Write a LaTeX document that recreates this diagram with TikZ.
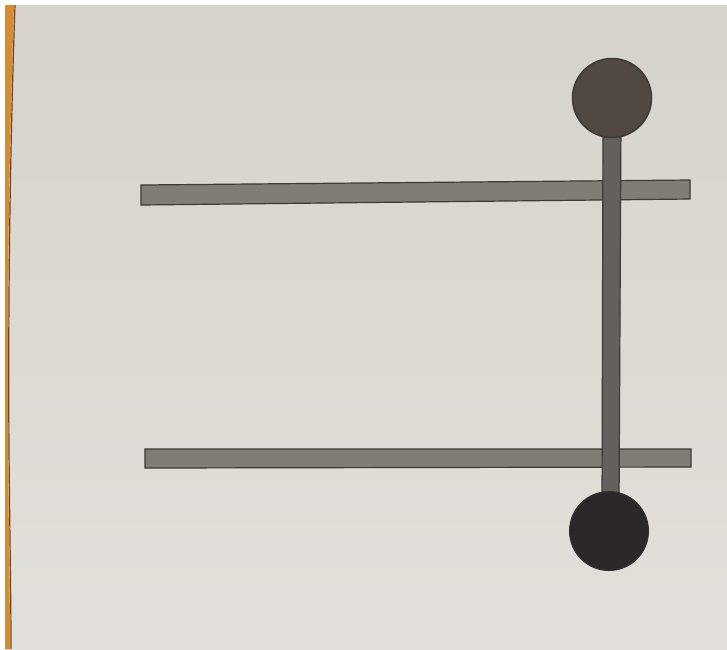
\documentclass[tikz,border=0pt]{standalone}
\usetikzlibrary{calc}
\definecolor{paper}{RGB}{214,211,204}
\definecolor{paperlight}{RGB}{226,224,218}
\definecolor{orangeedge}{RGB}{214,140,50}
\definecolor{edgeline}{RGB}{110,70,35}
\definecolor{barfill}{RGB}{128,124,118}
\definecolor{barline}{RGB}{60,57,54}
\definecolor{topball}{RGB}{82,72,66}
\definecolor{botball}{RGB}{42,40,40}
\definecolor{rodfill}{RGB}{100,96,92}
\tikzset{
  barstyle/.style={fill=barfill, draw=barline, line width=1.2pt},
  rodstyle/.style={fill=rodfill, draw=barline, line width=1.2pt},
}
\begin{document}
\begin{tikzpicture}[x=1pt,y=-1pt]
\useasboundingbox (0,0) rectangle (727,649);
\fill[white] (0,0) rectangle (727,649);
% paper
\shade[top color=paper, bottom color=paperlight] (5,5) rectangle (727,649);
% orange edge
\fill[orangeedge] (5,5) -- (14,5) .. controls (9,150) and (7,300) .. (8,450) .. controls (9,550) and (10,600) .. (10,649) -- (5,649) -- cycle;
\draw[edgeline, line width=1.2pt] (15,5) .. controls (10,150) and (8,300) .. (9,450) .. controls (10,550) and (11,600) .. (11,649);
% bars
\path[barstyle] (141,185) -- (690,180) -- (690,199) -- (141,205) -- cycle;
\path[barstyle] (145,449) -- (691,449) -- (691,467) -- (145,468) -- cycle;
% rod
\path[rodstyle] (603,120) -- (621,120) -- (619,510) -- (602,510) -- cycle;
\coordinate (rodtop) at (612,120);
\coordinate (rodbot) at (610,510);
% balls
\node[circle, minimum size=79pt, inner sep=0pt, fill=topball, draw=barline, line width=1.5pt] (top) at (612,98) {};
\node[circle, minimum size=79pt, inner sep=0pt, fill=botball, draw=black!80, line width=1pt] (bot) at (609,531) {};
\end{tikzpicture}
\end{document}
